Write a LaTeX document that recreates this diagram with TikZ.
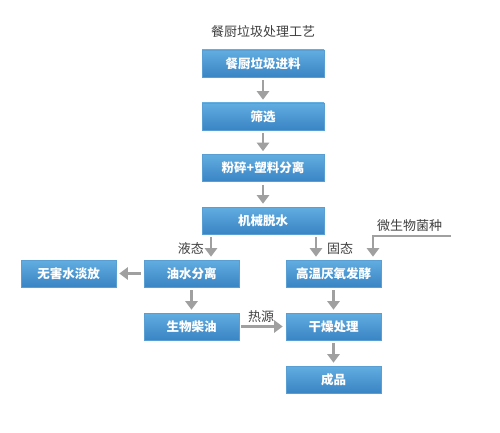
\documentclass[tikz,border=0pt]{standalone}
\usepackage{fontspec}
\setmainfont{Noto Sans CJK SC}
\newfontfamily\cjk{Noto Sans CJK SC}
\usetikzlibrary{arrows.meta}
\definecolor{boxtop}{HTML}{62ADE0}
\definecolor{boxbot}{HTML}{3984C4}
\definecolor{boxline}{HTML}{5A9FD4}
\definecolor{arr}{HTML}{A0A0A0}
\definecolor{lbl}{HTML}{404040}
\tikzset{
  procbox/.style={rectangle, minimum width=122pt, minimum height=27pt, inner sep=0pt,
    top color=boxtop, bottom color=boxbot, draw=boxline, line width=0.6pt,
    text=white, font=\cjk\bfseries\fontsize{12.5}{14}\selectfont},
  smallbox/.style={procbox, minimum width=95pt},
  flow/.style={draw=arr, line width=2.8pt, -{Triangle[width=12pt,length=8.5pt]}, shorten >=3pt, shorten <=3pt},
  lbltext/.style={text=lbl, font=\cjk\fontsize{13}{15}\selectfont, inner sep=0pt}
}
\begin{document}
\begin{tikzpicture}[x=1pt,y=-1pt]
\useasboundingbox[fill=white] (0,0) rectangle (500,433);
\node[lbltext] (title) at (263,32) {餐厨垃圾处理工艺};
\node[procbox] (b1) at (263,63.5) {餐厨垃圾进料};
\node[procbox] (b2) at (263,116.5) {筛选};
\node[procbox] (b3) at (263,168) {粉碎+塑料分离};
\node[procbox] (b4) at (263,220.5) {机械脱水};
\node[smallbox] (oil) at (191.5,273.5) {油水分离};
\node[smallbox] (water) at (68.5,273.5) {无害水淡放};
\node[smallbox] (ferm) at (333.5,273.5) {高温厌氧发酵};
\node[smallbox] (diesel) at (191.5,326.5) {生物柴油};
\node[smallbox] (dry) at (333.5,326.5) {干燥处理};
\node[smallbox] (prod) at (333.5,379.5) {成品};
\draw[flow] (b1) -- (b2);
\draw[flow] (b2) -- (b3);
\draw[flow] (b3) -- (b4);
\draw[flow] (b4.south -| 211,0) -- (oil.north -| 211,0);
\node[lbltext, anchor=east] (liq) at (204,249) {液态};
\draw[flow] (b4.south -| 316,0) -- (ferm.north -| 316,0);
\node[lbltext, anchor=west] (sol) at (327,249) {固态};
\node[lbltext] (micro) at (409.5,226) {微生物菌种};
\coordinate (mstart) at (451,236);
\coordinate (mcorner) at (373,236);
\draw[draw=arr, line width=2.8pt, -{Triangle[width=12pt,length=8.5pt]}, shorten >=3pt] (mstart) -- (mcorner) -- (ferm.north -| mcorner);
\draw[flow] (oil) -- (water);
\draw[flow] (oil) -- (diesel);
\draw[flow, shorten <=2pt] (diesel) -- (dry);
\node[lbltext] (heat) at (261,317) {热源};
\draw[flow] (ferm) -- (dry);
\draw[flow] (dry) -- (prod);
\end{tikzpicture}
\end{document}
